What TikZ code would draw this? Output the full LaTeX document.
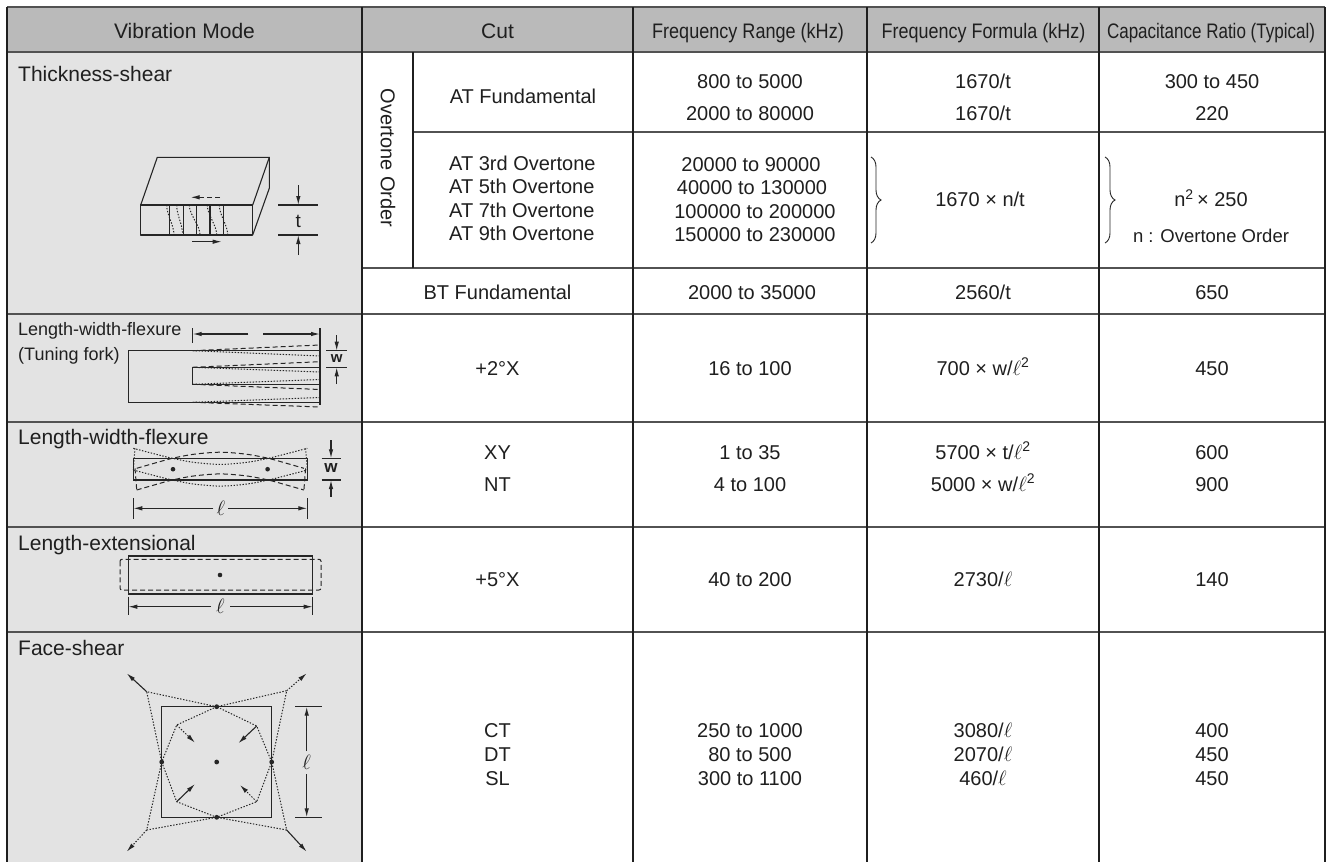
\documentclass[tikz,border=0pt]{standalone}
\usepackage{fontspec}
\setmainfont{Liberation Sans}
\usetikzlibrary{arrows.meta,decorations.pathreplacing}
\newcommand\fsz[2]{\fontsize{#1}{#2}\selectfont}
\definecolor{hdr}{gray}{0.73}
\definecolor{modebg}{gray}{0.89}
\definecolor{txtc}{gray}{0.12}
\begin{document}
\begin{tikzpicture}[x=1pt,y=-1pt,
  vl/.style={line width=1.2pt, draw=black!88},
  hl/.style={line width=1.2pt, draw=black!68},
  dat/.style={font=\fsz{20}{24}, anchor=base, inner sep=0pt, text=txtc},
  modelab/.style={font=\fsz{21}{25}, anchor=base west, inner sep=0pt, text=txtc},
  hd/.style={font=\fsz{21}{25}, anchor=base, inner sep=0pt, text=txtc},
  fg/.style={line width=1.1pt, draw=black!85},
  dotl/.style={line width=1pt, draw=black!85, dash pattern=on 1.4pt off 1.6pt},
  dashl/.style={line width=1pt, draw=black!85, dash pattern=on 5pt off 3pt},
  tip/.style={-{Latex[length=9pt,width=4.5pt]}},
  dimlab/.style={inner sep=0pt, text=txtc},
  brc/.style={line width=0.9pt, draw=black!85, decorate, decoration={brace, amplitude=10pt}},
]
\useasboundingbox (0,0) rectangle (1327,862);
\fill[white] (0,0) rectangle (1327,862);
\fill[hdr] (7,7) rectangle (1325,52);
\fill[modebg] (7,52) rectangle (362,862);

% table lines
\draw[hl] (7,7) -- (1325,7);
\draw[hl] (7,52) -- (1325,52);
\draw[hl] (413,132) -- (1325,132);
\draw[hl] (362,268) -- (1325,268);
\draw[hl] (7,314) -- (1325,314);
\draw[hl] (7,422) -- (1325,422);
\draw[hl] (7,527) -- (1325,527);
\draw[hl] (7,632) -- (1325,632);
\foreach \x in {7,362,633,867,1099,1325} \draw[vl] (\x,7) -- (\x,862);
\draw[vl] (413,52) -- (413,268);

% header
\node[hd] (hVM) at (184.5,38.3) {Vibration Mode};
\node[hd] (hCut) at (497.5,38.3) {Cut};
\node[hd] (hFR) at (748,38.3) {\scalebox{0.86}[1]{Frequency Range (kHz)}};
\node[hd] (hFF) at (983.5,38.3) {\scalebox{0.855}[1]{Frequency Formula (kHz)}};
\node[hd] (hCR) at (1211,38.3) {\scalebox{0.81}[1]{Capacitance Ratio (Typical)}};

% mode labels
\node[modelab] (mTS) at (18,81.7) {Thickness-shear};
\node[modelab, font=\fsz{18}{21}] (mTF1) at (18,335) {Length-width-flexure};
\node[modelab, font=\fsz{18}{21}] (mTF2) at (18,360) {(Tuning fork)};
\node[modelab] (mLW) at (18,444.5) {Length-width-flexure};
\node[modelab] (mLE) at (18,550) {Length-extensional};
\node[modelab] (mFS) at (18,655) {Face-shear};

% Overtone order
\node[dat, anchor=center, rotate=-90] (oo) at (388,158) {Overtone Order};

% row AT fundamental
\node[dat] (c1) at (523,103.3) {AT Fundamental};
\node[dat] (f1a) at (750,88.3) {800 to 5000};
\node[dat] (f1b) at (750,120) {2000 to 80000};
\node[dat] (q1a) at (983,88.3) {1670/t};
\node[dat] (q1b) at (983,120) {1670/t};
\node[dat] (r1a) at (1212,88.3) {300 to 450};
\node[dat] (r1b) at (1212,120) {220};

% overtone rows
\node[dat, anchor=base west] (c3) at (449,170) {AT 3rd Overtone};
\node[dat, anchor=base west] (c5) at (449,193.5) {AT 5th Overtone};
\node[dat, anchor=base west] (c7) at (449,217) {AT 7th Overtone};
\node[dat, anchor=base west] (c9) at (449,240.5) {AT 9th Overtone};
\node[dat] (f3) at (751,171) {20000 to 90000};
\node[dat] (f5) at (752,194.5) {40000 to 130000};
\node[dat] (f7) at (755,218) {100000 to 200000};
\node[dat] (f9) at (755,241.5) {150000 to 230000};
\draw[brc] (871,157) -- (871,243);
\draw[brc] (1105,157) -- (1105,243);
\node[dat] (qn) at (980,206.7) {1670 × n/t};
\node[dat] (rn) at (1211,206.7) {n\textsuperscript{2}\,× 250};
\node[dat, font=\fsz{18.5}{22}] (rnote) at (1211,242.5) {n : Overtone Order};

% BT row
\node[dat] (cBT) at (497.5,299.3) {BT Fundamental};
\node[dat] (fBT) at (752,299.3) {2000 to 35000};
\node[dat] (qBT) at (983,299.3) {2560/t};
\node[dat] (rBT) at (1212,299.3) {650};

% tuning fork row
\node[dat] (cTF) at (497.5,375) {+2°X};
\node[dat] (fTF) at (750,375) {16 to 100};
\node[dat] (qTF) at (983,375) {700 × w/$\ell$\textsuperscript{2}};
\node[dat] (rTF) at (1212,375) {450};

% LWF row
\node[dat] (cXY) at (497.5,459) {XY};
\node[dat] (cNT) at (497.5,491) {NT};
\node[dat] (fXY) at (750,459) {1 to 35};
\node[dat] (fNT) at (750,491) {4 to 100};
\node[dat] (qXY) at (983,459) {5700 × t/$\ell$\textsuperscript{2}};
\node[dat] (qNT) at (983,491) {5000 × w/$\ell$\textsuperscript{2}};
\node[dat] (rXY) at (1212,459) {600};
\node[dat] (rNT) at (1212,491) {900};

% LE row
\node[dat] (cLE) at (497.5,586) {+5°X};
\node[dat] (fLE) at (750,586) {40 to 200};
\node[dat] (qLE) at (983,586) {2730/$\ell$};
\node[dat] (rLE) at (1212,586) {140};

% face shear row
\node[dat] (cCT) at (497.5,737) {CT};
\node[dat] (cDT) at (497.5,761) {DT};
\node[dat] (cSL) at (497.5,785) {SL};
\node[dat] (fCT) at (750,737) {250 to 1000};
\node[dat] (fDT) at (750,761) {80 to 500};
\node[dat] (fSL) at (750,785) {300 to 1100};
\node[dat] (qCT) at (983,737) {3080/$\ell$};
\node[dat] (qDT) at (983,761) {2070/$\ell$};
\node[dat] (qSL) at (983,785) {460/$\ell$};
\node[dat] (rCT) at (1212,737) {400};
\node[dat] (rDT) at (1212,761) {450};
\node[dat] (rSL) at (1212,785) {450};

% ---- thickness-shear figure
\draw[fg, line join=round] (140.7,205) rectangle (252.7,235);
\draw[fg, line join=round] (140.7,205) -- (157.3,157.3) -- (269.3,157.3) -- (252.7,205);
\draw[fg, line join=round] (269.3,157.3) -- (269.3,188.3) -- (252.7,235);
\foreach \x in {169.3,183.3,196.7,210,223.3} \draw[fg] (\x,205) -- (\x,235);
\foreach \a/\b in {166.7/174,176.7/182.7,189.3/200,207.3/216.7,219.3/227.7}
  \draw[dotl] (\a,205) .. controls (\a,215) and (\b,225) .. (\b,235);
\draw[dashl, tip] (220,197.3) -- (190.7,197.3);
\draw[fg, tip] (192.3,241.7) -- (221.7,241.7);
\draw[fg] (278.3,205) -- (318.3,205);
\draw[fg] (278.3,235) -- (318.3,235);
\draw[fg, tip] (298.3,185) -- (298.3,205);
\draw[fg, tip] (298.3,255) -- (298.3,235);
\node[dimlab, font=\fsz{19}{22}] (tlab) at (298.3,221) {t};

% ---- tuning fork figure
\draw[fg] (320,350.7) -- (128.3,350.7) -- (128.3,402.3) -- (320,402.3);
\draw[fg] (320,367.3) -- (192.7,367.3) -- (192.7,384.3) -- (320,384.3);
\draw[fg] (320,328.3) -- (320,405);
\draw[dashl] (192.7,350.7) -- (320,345);
\draw[dashl] (192.7,367.3) -- (320,361.7);
\draw[dashl] (192.7,384.3) -- (320,389.5);
\draw[dashl] (192.7,402.3) -- (320,407);
\draw[dotl] (192.7,350.7) -- (320,356);
\draw[dotl] (192.7,367.3) -- (320,372);
\draw[dotl] (192.7,384.3) -- (320,379.5);
\draw[dotl] (192.7,402.3) -- (320,397.5);
\draw[fg] (192.7,328.3) -- (192.7,343.3);
\draw[fg, tip] (248.3,334) -- (192.7,334);
\draw[fg, tip] (263.3,334) -- (320,334);
\draw[fg] (326,350.7) -- (346.7,350.7);
\draw[fg] (326,367.3) -- (346.7,367.3);
\draw[fg, tip] (336.7,335) -- (336.7,350.7);
\draw[fg, tip] (336.7,384) -- (336.7,367.3);
\node[dimlab, font=\bfseries\fsz{15}{17}] (wlab1) at (336.7,358.5) {w};

% ---- length-width-flexure figure
\draw[fg] (133.3,458.3) rectangle (307.3,480);
\draw[dotl] plot[smooth] coordinates {(133.3,448.3) (150.7,452.9) (172.3,458.3) (194.2,462.4) (220.3,464.4) (246.4,462.4) (268.3,458.3) (289.9,452.9) (307.3,448.3)};
\draw[dotl] plot[smooth] coordinates {(133.3,470) (150.7,474.6) (172.3,480) (194.2,484.1) (220.3,486.1) (246.4,484.1) (268.3,480) (289.9,474.6) (307.3,470)};
\draw[dotl] (135,448.3) -- (133.3,470);
\draw[dotl] (305.6,448.3) -- (307.3,470);
\draw[dashl] plot[smooth] coordinates {(136.7,468.3) (152.7,463.7) (172.3,458.3) (194.2,454.2) (220.3,452.2) (246.4,454.2) (268.3,458.3) (287.9,463.7) (303.9,468.3)};
\draw[dashl] plot[smooth] coordinates {(136.7,490) (152.7,485.4) (172.3,480) (194.2,475.9) (220.3,473.9) (246.4,475.9) (268.3,480) (287.9,485.4) (303.9,490)};
\draw[dashl] (135,468.3) -- (136.7,490);
\draw[dashl] (305.6,468.3) -- (303.9,490);
\fill[black!85] (173,469.2) circle (2.3);
\fill[black!85] (267.6,469.2) circle (2.3);
\draw[fg] (321.7,458.3) -- (340.7,458.3);
\draw[fg] (321.7,480) -- (340.7,480);
\draw[fg, tip] (331,440) -- (331,458.3);
\draw[fg, tip] (331,496.7) -- (331,480);
\node[dimlab, font=\bfseries\fsz{17}{19}] (wlab2) at (331,468) {w};
\draw[fg] (133.3,498.3) -- (133.3,519.3);
\draw[fg] (307.3,498.3) -- (307.3,519.3);
\draw[fg, tip] (213.3,508.3) -- (133.3,508.3);
\draw[fg, tip] (228.3,508.3) -- (307.3,508.3);
\node[dimlab, font=\fsz{20}{22}] (llab1) at (220.8,508.3) {$\ell$};

% ---- length-extensional figure
\draw[fg] (128.3,556) rectangle (312.7,594);
\draw[dashl, rounded corners=2pt] (120,559.3) rectangle (321,590);
\fill[black!85] (220,575) circle (2.3);
\draw[fg] (128.3,596.7) -- (128.3,615);
\draw[fg] (312.7,596.7) -- (312.7,615);
\draw[fg, tip] (211,606.7) -- (128.3,606.7);
\draw[fg, tip] (230,606.7) -- (312.7,606.7);
\node[dimlab, font=\fsz{20}{22}] (llab2) at (220.5,606.7) {$\ell$};

% ---- face-shear figure
\draw[fg] (161.7,706.7) rectangle (271.7,817.3);
\draw[dotl] (216.7,706.7) -- (146.7,691.7) -- (161.7,762) -- (146.7,830) -- (216.7,817.3) -- (286.7,830) -- (271.7,762) -- (286.7,690.7) -- cycle;
\draw[dotl] (216.7,706.7) -- (176.7,725) -- (161.7,762) -- (176.7,801.7) -- (216.7,817.3) -- (256.7,801.7) -- (271.7,762) -- (256.7,726) -- cycle;
\foreach \p in {(216.7,706.7),(216.7,817.3),(161.7,762),(271.7,762),(216.7,762)} \fill[black!85] \p circle (2.4);
\draw[fg, tip] (146.7,691.7) -- (126.7,673.3);
\draw[fg, tip] (286.7,830) -- (306.7,851.7);
\draw[dotl, tip] (286.7,690.7) -- (306.7,673.3);
\draw[dotl, tip] (146.7,830) -- (126.7,851.7);
\draw[fg, tip] (256.7,726) -- (238.3,743.3);
\draw[fg, tip] (176.7,801.7) -- (195,784);
\draw[dotl, tip] (176.7,725) -- (195,742.7);
\draw[dotl, tip] (256.7,801.7) -- (240,785);
\draw[fg] (295,706.7) -- (321.7,706.7);
\draw[fg] (295,817.3) -- (321.7,817.3);
\draw[fg, tip] (306.7,751) -- (306.7,706.7);
\draw[fg, tip] (306.7,774) -- (306.7,817.3);
\node[dimlab, font=\fsz{20}{22}] (llab3) at (306.7,762) {$\ell$};
\end{tikzpicture}
\end{document}
